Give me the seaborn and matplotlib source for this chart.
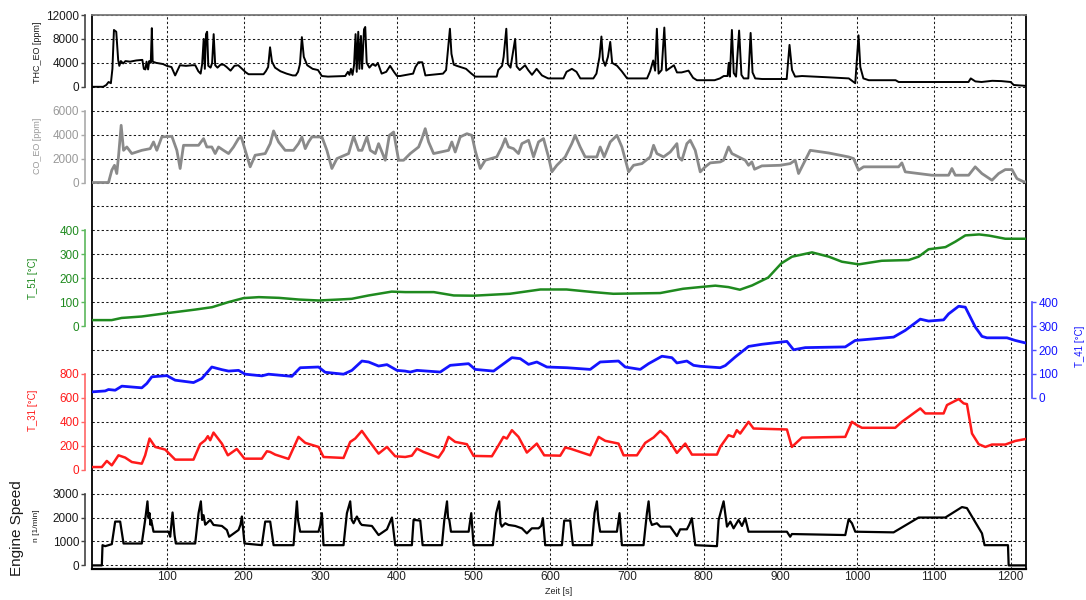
import matplotlib
matplotlib.use("Agg")
import matplotlib.pyplot as plt
import pandas as pd
import seaborn as sns

sns.set_theme(style="white")
plt.rcParams['font.family'] = ['Liberation Sans', 'DejaVu Sans']

# ---------------- measured traces (time in s) ----------------
thc_t = [2, 17, 21, 24, 27, 29, 31, 34, 36.5, 38, 40, 43, 46, 52, 60, 68, 70, 72, 73.5, 75.5, 77, 79, 80.4, 81.5,
         86, 95, 100, 106, 110.8, 117, 125, 133, 137, 141, 144, 146, 148, 149.5, 151, 152.5, 154, 157, 159, 161,
         163, 166, 170, 174, 178, 183, 188, 193, 198, 203, 206.5, 226, 229, 232, 234.5, 237, 241, 248, 256, 264,
         268, 271, 273.5, 276, 278.5, 283, 290, 297, 302, 310, 332.5, 336, 338, 340, 342, 344, 346, 347.5, 349.5,
         351, 353, 354.5, 357, 358.6, 360.5, 364, 368, 372, 375, 380, 386, 391, 396, 400,
         404, 421, 424, 428, 433, 437, 460, 464, 469, 471, 474, 478, 490, 497, 502, 530, 532, 537, 539, 542.5,
         544.5, 548, 554, 556, 560, 567, 571, 576, 582, 589, 597, 617, 621, 628, 634, 639, 656, 660, 664, 666.5,
         668.5, 671.5, 675, 678, 680.5, 687, 693, 700, 726, 730, 734, 736.5, 738.8, 741, 745, 748.5, 751, 761,
         765, 771, 780, 786, 791, 814,
         821, 826, 831, 832.5, 834, 836.6, 839, 842, 846, 849, 852, 858, 861, 863.5, 867, 876, 908, 911.7, 915,
         919, 928, 960, 989, 997.4, 1001.7, 1004, 1008, 1015, 1050, 1054, 1097, 1145, 1148, 1154, 1162, 1176,
         1188, 1200, 1204, 1220]
thc_ppm = [0, 0, 300, 800, 600, 3000, 9500, 9200, 4500, 3500, 4300, 3900, 4300, 4200, 4400, 4500, 3000, 2900, 4200,
           2900, 4300, 4000, 9800, 4200,
           4000, 3800, 3500, 3300, 1900, 3600, 3500, 3600, 3600, 2600, 2200, 3800, 8000, 3000, 8800, 9200, 3500,
           3200, 4000, 8800,
           3600, 3200, 3700, 3700, 3300, 2700, 3500, 3600, 3000, 2400, 2100, 2100, 2600, 3300, 6600, 4200, 3200,
           2600, 2200, 1900,
           1900, 2500, 3800, 8300, 5000, 3600, 3000, 2800, 1800, 1700, 1800, 2500, 2000, 3000, 2000, 3600, 8800,
           2500, 9200,
           3000, 8500, 3000, 9600, 10000, 4000, 3200, 3800, 3500, 4000, 2200, 2500, 3500, 2500, 1800,
           1800, 2200, 3300, 4100, 4100, 1900, 2200, 2800, 9700, 5500, 3700, 3500, 3000, 2200, 1700, 1700, 2800,
           3500, 5000, 9700,
           3800, 3200, 8000, 3400, 2800, 3600, 2800, 2000, 3000, 1900, 1400, 1400, 2500, 3000, 2500, 1400, 1400,
           2200, 5000, 8400,
           4500, 3500, 5000, 7500, 4000, 3500, 2600, 1400, 1400, 2600, 4400, 2700, 9700, 2200, 2800, 9900, 2700,
           3600,
           2400, 2400, 2700, 1500, 1100, 1100,
           1400, 1800, 1800, 4000, 1700, 9500, 2300, 1700, 9400, 2000, 1400, 1400, 9000, 2400, 1400, 1300, 1300,
           7000, 2800,
           1700, 1800, 1600, 1400, 600, 8600, 3300, 1400, 1100, 1100, 800, 800, 800, 1400, 900, 800, 1000,
           950, 800, 300, 150]

co_t = [2, 23.9, 28.2, 31.7, 34.7, 36.9, 40.4, 43.5, 47.8, 54.3, 67.3, 78.2, 82.6, 86.9, 93.4, 106.5, 113,
        117.3, 121.7, 141.3, 147.8, 152.1, 158.6, 163, 167.3, 173.8, 180.4, 186.9, 193.4, 196.9, 202.1, 208.6,
        215.1, 228.2, 234.7, 239.1, 245.6, 254.2, 265.1, 271.6, 276, 280.4, 284.7, 289.1, 302.1, 308.6, 315.1,
        321.7, 336.9, 343.4, 349.9, 354.3, 360.8, 365.2, 371.7, 376, 384.7, 390, 395.6, 402.1,
        408.6, 417.3, 428.2, 432.5, 436.8, 441.2, 447.7, 467.2, 471.5, 475.9, 482.4, 491.1, 497.6, 501.9,
        508.5, 515, 530.1, 536.7, 541.1, 545.4, 551.9, 558.4, 562.8, 567.1, 571.5, 578, 584.5, 591, 597.5,
        601.9, 608.4, 619.3, 627.9, 632.3, 638.8, 645.3, 660.5, 664.9, 670.1, 678, 686.7, 693.2, 701.9, 708.4,
        719.3, 730.1, 734.5, 738.8, 747.5, 756.2, 764.9, 767.1, 771.4, 777.9, 782.3, 788.8, 795.3, 801.8,
        808.3, 821.4, 825.7, 832.2, 836.6, 845.3, 854, 858.3, 862.6, 866.1, 875.7, 899.6, 912.6, 919.1, 923.5,
        930, 938.7, 962.6, 988.6, 995.2, 1001.7, 1008.3, 1053.9, 1058.2, 1062.6, 1097.3, 1119.1, 1123.4,
        1127.8, 1145.2, 1153.8, 1162.5, 1175.6, 1184.3, 1193, 1201.7, 1208.2, 1216.9, 1220]
co_ppm = [0, 0, 1030, 1440, 750, 2140, 4780, 2690, 2970, 2420, 2690, 2830, 3390, 2690, 3810, 3860, 2690,
          1170, 3110, 3110, 3670, 2970, 2970, 2420, 2970, 2690, 2420, 2970, 3670, 3810, 2690, 1310,
          2280, 2420, 3250, 4310, 3390, 2690, 2690, 3250, 3810, 2830, 3390, 3810, 3810, 2690, 1170,
          2000, 2420, 3860, 2690, 2690, 3810, 2690, 2420, 3250, 1860, 3940, 4220, 1860,
          1860, 2420, 2970, 3670, 4500, 3390, 2420, 2690, 3390, 2550, 3810, 4080, 3940, 2690,
          1170, 1860, 2140, 2970, 3670, 2970, 2830, 2420, 3250, 3390, 3530, 2140, 3390, 3670, 2140,
          890, 1440, 2140, 3250, 3940, 2970, 2140, 2140, 2970, 2140, 3390, 3940, 2970, 890, 1440,
          1580, 2140, 3110, 2420, 2140, 2550, 3250, 2140, 1860, 3250, 3530, 2690, 890, 1310,
          1640, 1720, 1860, 2970, 2420, 2140, 1860, 1440, 1720, 1110, 1390, 1440, 1580, 1860, 750,
          1580, 2690, 2470, 2140, 2000, 1030, 1310, 1310, 1640, 890, 610, 610, 1170,
          610, 610, 1310, 750, 190, 750, 1080, 1080, 330, 60, 50]

t51_t = [2, 28, 41, 67, 100, 137, 159, 180, 200, 220, 246, 272, 298, 324, 341, 363, 393, 411, 448, 474, 500,
         547, 587, 621, 656, 682, 743, 773, 795, 815, 832, 847, 863, 884, 901, 915, 941, 963, 980, 1002, 1032,
         1067, 1080, 1093, 1115, 1128, 1141, 1159, 1172, 1193, 1220]
t51_c = [25, 25, 34, 40, 54, 69, 79, 100, 117, 121, 118, 111, 107, 111, 114, 128, 144, 142, 142, 128, 127,
         135, 153, 153, 142, 135, 138, 156, 163, 169, 163, 152, 170, 203, 262, 290, 308, 290, 269, 258, 273,
         276, 290, 321, 330, 353, 379, 383, 378, 365, 365]

t41_t = [2, 19.6, 23.9, 32.6, 41.3, 67.3, 73.8, 80.4, 100, 110.8, 134.7, 145.6, 158.6, 171.7, 180.4, 193.4,
         202.1, 223.9, 232.5, 262.9, 273.8, 297.7, 306.4, 330.3, 341.2, 354.3, 363, 376, 386.9, 400, 410.6,
         417.3, 426, 456.4, 469.4, 493.3, 501.9, 525.9, 549.8, 560.6, 571.5, 582.3, 595.4, 621.5, 651.9, 664.9,
         688.8, 697.5, 717.1, 728, 745.4, 758.4, 764.9, 777.9, 786.6, 795.3, 821.4, 828, 841, 858.3, 875.7,
         908.3, 917, 932.2, 984.4, 997.4, 1019.1, 1047.4, 1062.6, 1082.2, 1093, 1112.6, 1119.1, 1132.2,
         1140.9, 1153.9, 1162.6, 1169.1, 1195.2, 1206, 1220]
t41_c = [25, 29, 35, 32, 49, 42, 60, 88, 93, 74, 64, 81, 129, 118, 112, 115, 99, 92, 99, 90, 126, 129, 107, 99,
         115, 154, 150, 133, 139, 115, 112, 108, 115, 108, 136, 143, 119, 112, 168, 164, 140, 150, 129, 126,
         119, 150, 154, 129, 119, 143, 174, 168, 146, 154, 136, 132, 126, 135, 171, 215, 224, 236, 201, 210,
         213, 240, 246, 254, 282, 329, 321, 326, 351, 383, 379, 296, 257, 251, 251, 240, 229]

t31_t = [2, 15.2, 21.7, 28.2, 36.9, 45.6, 54.3, 67.3, 71.7, 77.4, 84.7, 97.8, 110.8, 134.7, 143.4, 149.9,
         153.4, 156.5, 160.8, 171.7, 179.5, 191.2, 201.2, 223.8, 230.4, 234.7, 241.2, 258.6, 271.6, 280.4,
         297.7, 304.2, 330.3, 339, 345.5, 354.2, 362.9, 376, 386.9, 397.7, 410.7, 419.4, 426, 434.6, 454.1,
         460.6, 467.2, 475.9, 491.1, 499.8, 523.7, 532.4, 538.8, 543.2, 549.8, 558.4, 569.3, 582.3, 591.9,
         612.8, 619.3, 625.8, 651.9, 662.8, 671.5, 688.8, 695.4, 712.8, 723.6, 734.5, 743.2, 751.9, 764.9,
         775.8, 784.5, 817.1, 821.4, 832.2, 838.7, 843, 847.4, 858.3, 864.8, 908.3, 914.8, 927.8, 984.4, 993,
         999.6, 1006.1, 1049.5, 1058.2, 1082.2, 1088.7, 1112.6, 1117, 1132.2, 1138.7, 1143, 1149.6, 1158.3,
         1167, 1175.6, 1193, 1206, 1220]
t31_c = [22, 22, 73, 36, 120, 101, 64, 50, 120, 260, 190, 168, 84, 84, 213, 246, 280, 246, 310, 218, 120, 173,
         92, 92, 154, 148, 126, 90, 274, 224, 190, 106, 98, 232, 260, 324, 246, 134, 190, 112, 106, 117, 176,
         148, 101, 162, 274, 232, 213, 115, 112, 204, 274, 260, 330, 274, 143, 218, 120, 117, 185, 176, 120,
         274, 241, 218, 120, 120, 224, 269, 324, 274, 140, 218, 126, 126, 190, 288, 274, 330, 302, 400, 344,
         336, 190, 268, 274, 400, 372, 350, 350, 400, 512, 470, 470, 540, 590, 554, 548, 302, 213, 190, 210,
         210, 240, 257]

rpm_t = [2, 15.2, 16.1, 19.6, 28.2, 32.6, 39.1, 43.5, 67.3, 71.7, 74.7, 76, 77.4, 78.5, 79.5, 82.6, 102.1,
         104.3, 107.4, 110, 111.7, 136.9, 141.3, 144.3, 146, 147.8, 150, 152.1, 156.5, 160.8, 171.7, 178.2,
         181.2, 193.4, 196, 197.8, 201.2, 223.8, 228.2, 234.7, 239.1, 265.1, 269.5, 271, 273.8, 297.7, 300,
         302.1, 304.2, 330.3, 334.7, 339, 341, 343.4, 347.7, 352.1, 354.2, 367.3, 376, 386.9, 393.4, 397.7,
         419.4, 421.6, 430.3, 433.4, 458.6, 461.7, 465.2, 466.5, 468.2, 470.4, 493.4, 496.8, 499.8, 525, 529.3,
         533.2, 535, 536.7, 541.1, 545.4, 554.1, 562.8, 569.3, 575.8, 584.5, 588, 590.2, 593.2, 615, 618, 625.8,
         629.3, 654.1, 657.5, 660.6, 662.5, 664.9, 686.7, 690.1, 693.2, 721.4, 725.8, 728, 730, 732.3, 738.8,
         743.2, 756.2, 764.9, 769.2, 777.9, 781, 784.4, 788.8, 817.1, 819.3, 825.8, 830.2, 834.5, 838.8,
         845.3, 849.7, 854, 858.3, 908.3, 912.6, 914.8, 984.4, 988.8, 993.1, 997.4, 1047.4, 1080, 1114.8,
         1136.5, 1143, 1162.6, 1166, 1196.5, 1197.4, 1220]
rpm = [0, 0, 845, 803, 887, 1831, 1831, 915, 915, 1901, 2676, 2000, 2183, 1700, 1901, 1408, 1408, 1197,
       2211, 1268, 915, 915, 2183, 2676, 1900, 2100, 1700, 1761, 1901, 1690, 1648, 1479, 1197, 1479, 1700,
       2042, 915, 845, 1831, 1831, 845, 845, 2676, 1900, 1408, 1408, 1700, 2183, 845, 845, 2183, 2676, 1900,
       1761, 2042, 1761, 1690, 1648, 1268, 1507, 2000, 845, 845, 1901, 1873, 845, 845, 1901, 2676, 2000,
       1901, 1408, 1408, 2183, 845, 845, 2183, 2676, 1750, 1620, 1761, 1690, 1648, 1549, 1338, 1549, 1549,
       1650, 1972, 845, 845, 1873, 1873, 845, 845, 2183, 2676, 1900, 1408, 1408, 2183, 845, 845, 2183, 2676,
       1900, 1690, 1761, 1620, 1620, 1225, 1507, 1507, 1700, 1972, 845, 803, 1901, 2676, 1620, 1831, 1549,
       1901, 1648, 1972, 1408, 1408, 1197, 1310, 1268, 1930, 1761, 1408, 1380, 2000, 2000, 2437, 2394,
       1338, 845, 845, 0, 0]

# ---------------- layout (pixel geometry of the plotting frame) ----------------
W, H = 1086, 600
L, R, T, B = 91.7, 1026.0, 15.0, 569.0
GRID_PX = 23.93
GRID_TOP = 23
GRID_BOT = -(B - (T + 23 * GRID_PX)) / GRID_PX

fig = plt.figure(figsize=(W / 100, H / 100), dpi=100)
ax = fig.add_axes([L / W, 1 - B / H, (R - L) / W, (B - T) / H])
ax.set_xlim(2, 1220)
ax.set_ylim(GRID_BOT, GRID_TOP)
ax.set_yticks(range(0, 24))
ax.set_xticks(range(100, 1300, 100))
ax.grid(True, color='#1a1a1a', linestyle=(0, (2.2, 2.2)), linewidth=0.75)
for s in ['left', 'bottom', 'right']:
    ax.spines[s].set_color('black')
ax.spines['left'].set_linewidth(1.3)
ax.spines['bottom'].set_linewidth(1.6)
ax.spines['right'].set_linewidth(1.3)
ax.spines['top'].set_color('#777777')
ax.spines['top'].set_linewidth(1.3)


def series_axis(zero_grid, step, ticks, tick_color, spine_color, side='left'):
    a = ax.twinx()
    a.set_ylim((GRID_BOT - zero_grid) * step, (GRID_TOP - zero_grid) * step)
    for s in a.spines.values():
        s.set_visible(False)
    sp = a.spines[side]
    sp.set_visible(True)
    sp.set_position(('outward', 4.5))
    sp.set_bounds(ticks[0], ticks[-1])
    sp.set_color(spine_color)
    sp.set_linewidth(1.2)
    if side == 'left':
        a.yaxis.tick_left()
    else:
        a.yaxis.tick_right()
    a.set_yticks(ticks)
    a.tick_params(axis='y', length=3, width=1.0, color=spine_color, labelcolor=tick_color,
                  labelsize=8.5, pad=1.5)
    a.grid(False)
    return a


def draw(a, t, v, color, lw):
    df = pd.DataFrame({'t': t, 'v': v})
    sns.lineplot(data=df, x='t', y='v', ax=a, color=color, linewidth=lw,
                 estimator=None, sort=False)
    a.set_xlabel('')
    a.set_ylabel('')
    a.set_xlim(2, 1220)


GREEN = '#1f8a1f'
RED = '#ff1a1a'
BLUE = '#1414ff'

a_thc = series_axis(20, 4000, [0, 4000, 8000, 12000], '#1a1a1a', '#444444')
a_co = series_axis(16, 2000, [0, 2000, 4000, 6000], '#999999', '#aaaaaa')
a_t51 = series_axis(10, 100, [0, 100, 200, 300, 400], GREEN, '#5cb85c')
a_t31 = series_axis(4, 200, [0, 200, 400, 600, 800], RED, '#ff6666')
a_rpm = series_axis(0, 1000, [0, 1000, 2000, 3000], '#1a1a1a', '#444444')
a_t41 = series_axis(7, 100, [0, 100, 200, 300, 400], BLUE, '#4d4dff', side='right')

# the frame axis only carries the grid; its own y ticks stay hidden
ax.tick_params(axis='y', left=False, right=False, labelleft=False, labelright=False)
ax.tick_params(axis='x', bottom=False, length=0, labelsize=8.5, pad=1.5, labelcolor='#222222')

draw(a_co, co_t, co_ppm, '#8a8a8a', 2.0)
draw(a_thc, thc_t, thc_ppm, 'black', 1.4)
draw(a_t51, t51_t, t51_c, GREEN, 1.8)
draw(a_t31, t31_t, t31_c, RED, 1.8)
draw(a_t41, t41_t, t41_c, BLUE, 2.0)
draw(a_rpm, rpm_t, rpm, 'black', 1.6)


def side_label(px, py, text, color, size, rot=90):
    fig.text(px / W, 1 - py / H, text, rotation=rot, ha='center', va='center',
             color=color, fontsize=size)


side_label(37, 52, 'THC_EO [ppm]', '#1a1a1a', 6.5)
side_label(37, 146, 'CO_EO [ppm]', '#999999', 6.5)
side_label(33, 278, 'T_51 [°C]', GREEN, 7)
side_label(33, 410, 'T_31 [°C]', RED, 7)
side_label(17, 528, 'Engine Speed', '#1a1a1a', 11)
side_label(37, 526, 'n [1/min]', '#1a1a1a', 6)
side_label(1080, 346, 'T_41 [°C]', BLUE, 7)
side_label(559, 591.5, 'Zeit [s]', '#222222', 6.5, rot=0)

fig.savefig('out.png', dpi=100)
